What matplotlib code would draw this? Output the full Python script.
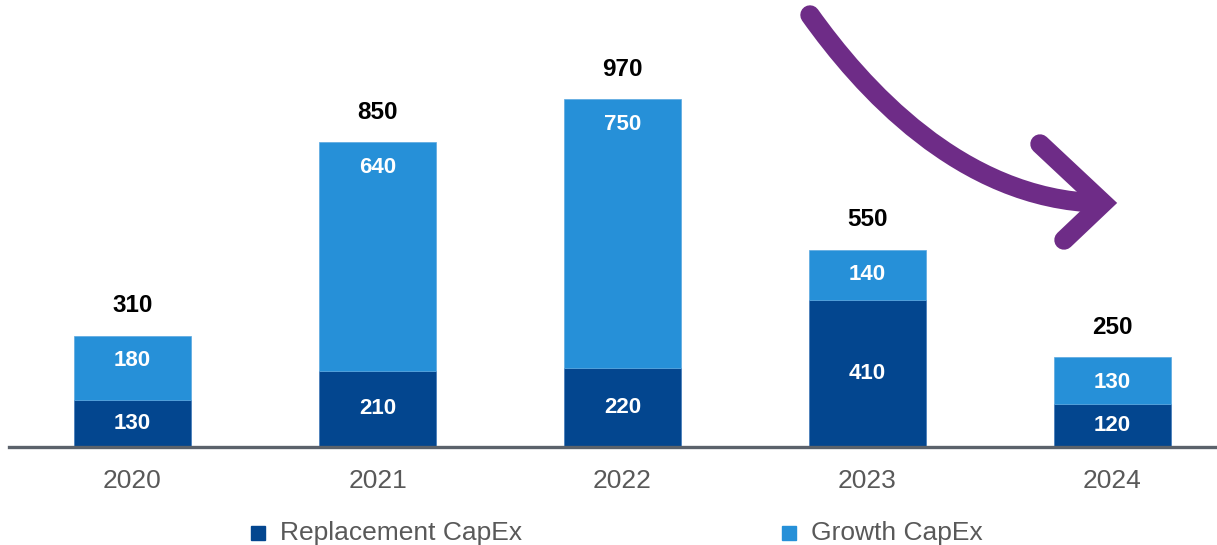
import numpy as np
import matplotlib.pyplot as plt
from matplotlib.path import Path
from matplotlib.patches import PathPatch, Rectangle

plt.rcParams['font.family'] = ['Liberation Sans', 'DejaVu Sans']

years = ['2020', '2021', '2022', '2023', '2024']
replacement = [130, 210, 220, 410, 120]
growth = [180, 640, 750, 140, 130]
totals = [310, 850, 970, 550, 250]

dark_blue = '#03468f'
light_blue = '#2690d8'
purple = '#6e2c87'

W, H = 1217, 545
fig = plt.figure(figsize=(W / 100, H / 100), dpi=100)
ax = fig.add_axes([9 / W, 1 - 446.5 / H, 1 - 9 / W, 446.5 / H])

x = np.arange(len(years))
bw = 0.478
ax.bar(x, replacement, bw, color=dark_blue, label='Replacement CapEx',
       edgecolor='#3f78b8', linewidth=0.5)
ax.bar(x, growth, bw, bottom=replacement, color=light_blue, label='Growth CapEx',
       edgecolor='#5aa8e0', linewidth=0.5)

for xi, r, g, t in zip(x, replacement, growth, totals):
    ax.text(xi, r / 2, str(r), ha='center', va='center', color='white',
            fontsize=16, fontweight='bold')
    # growth label hangs just under the top of its segment
    ax.annotate(str(g), (xi, r + g), xytext=(0, -18), textcoords='offset points',
                ha='center', va='center', color='white', fontsize=16, fontweight='bold')
    ax.annotate(str(t), (xi, r + g), xytext=(0, 21.5), textcoords='offset points',
                ha='center', va='center', fontsize=17.5, fontweight='bold', color='black')

ax.set_xlim(-(132.5 - 9) / 245, 4 + (W - 112.5 - 1000) / 245)
ax.set_ylim(0, 446.5 / 0.358)
ax.axhline(0, color='#5b626b', linewidth=2.4, zorder=3, clip_on=False)
for s in ax.spines.values():
    s.set_visible(False)
ax.set_yticks([])
ax.set_xticks(x)
ax.set_xticklabels(years, fontsize=19, color='#595959')
ax.tick_params(axis='x', length=0, pad=16)

# legend drawn by hand so the two entries sit far apart
def legend_item(px, label, color):
    fig.add_artist(Rectangle((px / W, 1 - 540 / H), 14 / W, 14 / H,
                             transform=fig.transFigure, color=color))
    fig.text((px + 29) / W, 1 - 533 / H, label, fontsize=19, color='#595959',
             va='center', ha='left')

legend_item(251, 'Replacement CapEx', dark_blue)
legend_item(782, 'Growth CapEx', light_blue)

# curved downward arrow
def fp(px, py):
    return (px / W, 1 - py / H)

shaft = Path([fp(810, 15), fp(860, 85), fp(960, 200), fp(1100, 203)],
             [Path.MOVETO, Path.CURVE4, Path.CURVE4, Path.CURVE4])
head = Path([fp(1040, 144), fp(1103, 203), fp(1064, 240)],
            [Path.MOVETO, Path.LINETO, Path.LINETO])
fig.add_artist(PathPatch(shaft, transform=fig.transFigure, facecolor='none',
                         edgecolor=purple, linewidth=14, capstyle='round'))
fig.add_artist(PathPatch(head, transform=fig.transFigure, facecolor='none',
                         edgecolor=purple, linewidth=14,
                         capstyle='round', joinstyle='miter'))

fig.savefig('out.png', dpi=100)
